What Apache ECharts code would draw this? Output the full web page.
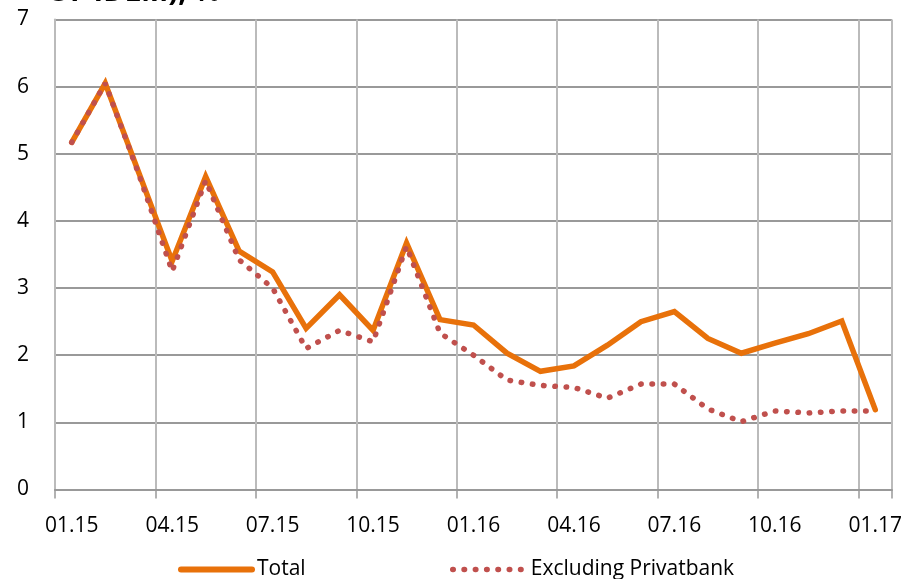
<!DOCTYPE html>
<html>
<head>
<meta charset="utf-8">
<script src="https://cdn.jsdelivr.net/npm/echarts@6/dist/echarts.min.js"></script>
<style>
html,body{margin:0;padding:0;background:#fff;}
#chart{width:908px;height:579px;}
</style>
</head>
<body>
<div id="chart"></div>
<script>
const categories = ["01.15","02.15","03.15","04.15","05.15","06.15","07.15","08.15","09.15","10.15","11.15","12.15",
  "01.16","02.16","03.16","04.16","05.16","06.16","07.16","08.16","09.16","10.16","11.16","12.16","01.17"];
const totalValues = [5.17, 6.05, 4.72, 3.40, 4.66, 3.55, 3.24, 2.40, 2.90, 2.37, 3.67, 2.53, 2.45,
  2.03, 1.76, 1.84, 2.15, 2.50, 2.65, 2.25, 2.03, 2.18, 2.32, 2.51, 1.19];
const exclPrivatValues = [5.17, 6.05, 4.70, 3.25, 4.60, 3.42, 3.00, 2.10, 2.37, 2.20, 3.62, 2.33, 2.00,
  1.63, 1.55, 1.52, 1.36, 1.57, 1.57, 1.20, 1.01, 1.17, 1.14, 1.17, 1.17];
const seriesNames = ["Total", "Excluding Privatbank"];
const titleText = "OF IDLM), %";

const FONT = "Open Sans";
const chart = echarts.init(document.getElementById('chart'));
chart.setOption({
  animation: false,
  backgroundColor: '#fff',
  title: {
    text: titleText,
    left: 42,
    top: -27,
    textStyle: {fontFamily: FONT, fontSize: 29, fontWeight: 'bold', color: '#000'}
  },
  grid: {left: 55, right: 16, top: 19.5, bottom: 89.5, containLabel: false},
  legend: [
    {
      data: [seriesNames[0]],
      left: 173, top: 554,
      itemWidth: 71, itemHeight: 14,
      itemStyle: {opacity: 0},
      lineStyle: {width: 6},
      textStyle: {fontFamily: FONT, fontSize: 21, color: '#000'}
    },
    {
      data: [seriesNames[1]],
      left: 445, top: 554,
      itemWidth: 73, itemHeight: 14,
      itemStyle: {opacity: 0},
      lineStyle: {width: 5.5},
      textStyle: {fontFamily: FONT, fontSize: 21, color: '#000'}
    }
  ],
  xAxis: {
    type: 'category',
    data: categories,
    boundaryGap: true,
    axisLine: {show: true, lineStyle: {color: '#999', width: 2}},
    axisTick: {show: true, interval: 2, length: 9, lineStyle: {color: '#999', width: 1.5}},
    axisLabel: {interval: 2, margin: 26, fontFamily: FONT, fontSize: 21, color: '#000'},
    splitLine: {show: true, interval: 2, lineStyle: {color: '#bbb', width: 2}}
  },
  yAxis: {
    type: 'value',
    min: 0, max: 7, interval: 1,
    axisLine: {show: true, lineStyle: {color: '#bbb', width: 2}},
    axisTick: {show: false},
    axisLabel: {margin: 26, fontFamily: FONT, fontSize: 21, color: '#000'},
    splitLine: {show: true, lineStyle: {color: '#999', width: 2}}
  },
  series: [
    {
      name: seriesNames[0],
      type: 'line',
      data: totalValues,
      symbol: 'none',
      z: 2,
      lineStyle: {color: '#E8710A', width: 5.5, join: 'miter', cap: 'round'},
      itemStyle: {color: '#E8710A'}
    },
    {
      name: seriesNames[1],
      type: 'line',
      data: exclPrivatValues,
      symbol: 'none',
      z: 3,
      lineStyle: {color: '#C0504D', width: 5.5, type: [0.5, 10.8], cap: 'round'},
      itemStyle: {color: '#C0504D'}
    }
  ]
});
</script>
</body>
</html>
